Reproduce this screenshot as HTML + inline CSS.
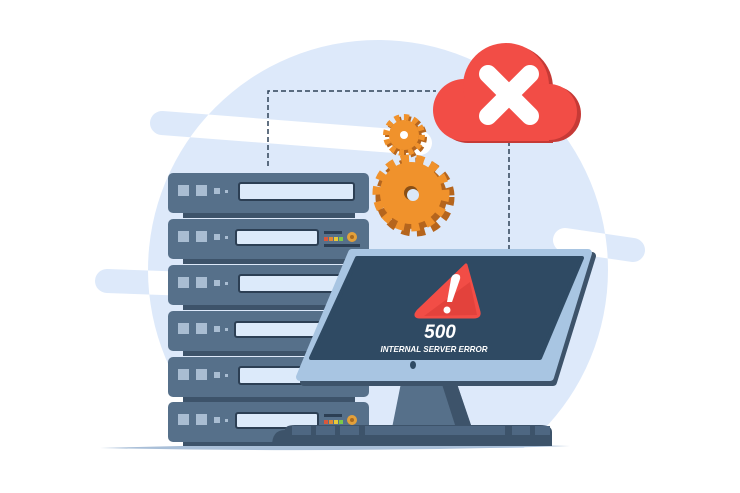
<!DOCTYPE html>
<html><head><meta charset="utf-8"><style>
html,body{margin:0;padding:0;background:#fff;}
svg{display:block}
</style></head><body>
<svg width="740" height="493" viewBox="0 0 740 493" xmlns="http://www.w3.org/2000/svg">
<defs>
<clipPath id="circ"><circle cx="378" cy="270" r="230"/></clipPath>
</defs>
<circle cx="378" cy="270" r="230" fill="#dde9fa"/>
<rect x="0" y="448" width="740" height="60" fill="#fff"/>
<g stroke="#dde9fa" stroke-width="24" stroke-linecap="round" fill="none">
<line x1="162" y1="123" x2="420" y2="143"/>
<line x1="565" y1="240" x2="633" y2="250"/>
<line x1="107" y1="281" x2="360" y2="290"/>
</g>
<g clip-path="url(#circ)" stroke="#fff" stroke-width="24" stroke-linecap="round" fill="none">
<line x1="162" y1="123" x2="420" y2="143"/>
<line x1="565" y1="240" x2="633" y2="250"/>
<line x1="107" y1="281" x2="360" y2="290"/>
</g>
<path d="M100 448 Q330 441 570 446 Q330 453 100 448Z" fill="#a9bfd8"/>
<path d="M268 166 V91 H436" fill="none" stroke="#2e4258" stroke-width="1.5" stroke-dasharray="5,3"/>
<path d="M509 141 V256" fill="none" stroke="#2e4258" stroke-width="1.5" stroke-dasharray="5,3"/>
<g>
<g transform="translate(0,173)">
<rect x="183" y="36" width="172" height="9" fill="#3d536a"/>
<rect x="168" y="0" width="201" height="40" rx="5" fill="#56708a"/>
<rect x="178" y="12" width="11" height="11" fill="#a9bdd2"/><rect x="196" y="12" width="11" height="11" fill="#a9bdd2"/><rect x="214" y="15" width="6" height="6" fill="#a9bdd2"/><rect x="225" y="17" width="3" height="3" fill="#a9bdd2"/>
<rect x="239" y="10" width="115" height="17" rx="2" fill="#dceafa" stroke="#2c3f54" stroke-width="2"/>
</g>
<g transform="translate(0,219)">
<rect x="183" y="36" width="172" height="9" fill="#3d536a"/>
<rect x="168" y="0" width="201" height="40" rx="5" fill="#56708a"/>
<rect x="178" y="12" width="11" height="11" fill="#a9bdd2"/><rect x="196" y="12" width="11" height="11" fill="#a9bdd2"/><rect x="214" y="15" width="6" height="6" fill="#a9bdd2"/><rect x="225" y="17" width="3" height="3" fill="#a9bdd2"/>
<rect x="236" y="11" width="82" height="15" rx="2" fill="#dceafa" stroke="#2c3f54" stroke-width="2"/>
<rect x="324" y="12" width="18" height="3" fill="#2c3f54"/><rect x="324" y="25" width="36" height="3" fill="#2c3f54"/>
<rect x="324" y="18" width="4" height="4" fill="#d9573c"/><rect x="329" y="18" width="4" height="4" fill="#e08a34"/><rect x="334" y="18" width="4" height="4" fill="#e8c83a"/><rect x="339" y="18" width="4" height="4" fill="#7cc84a"/>
<circle cx="352" cy="18" r="5" fill="#e3a03a"/><circle cx="352" cy="18" r="2" fill="#a96a1e"/>
</g>
<g transform="translate(0,265)">
<rect x="183" y="36" width="172" height="9" fill="#3d536a"/>
<rect x="168" y="0" width="201" height="40" rx="5" fill="#56708a"/>
<rect x="178" y="12" width="11" height="11" fill="#a9bdd2"/><rect x="196" y="12" width="11" height="11" fill="#a9bdd2"/><rect x="214" y="15" width="6" height="6" fill="#a9bdd2"/><rect x="225" y="17" width="3" height="3" fill="#a9bdd2"/>
<rect x="239" y="10" width="115" height="17" rx="2" fill="#dceafa" stroke="#2c3f54" stroke-width="2"/>
</g>
<g transform="translate(0,311)">
<rect x="183" y="36" width="172" height="9" fill="#3d536a"/>
<rect x="168" y="0" width="201" height="40" rx="5" fill="#56708a"/>
<rect x="178" y="12" width="11" height="11" fill="#a9bdd2"/><rect x="196" y="12" width="11" height="11" fill="#a9bdd2"/><rect x="214" y="15" width="6" height="6" fill="#a9bdd2"/><rect x="225" y="17" width="3" height="3" fill="#a9bdd2"/>
<rect x="235" y="11" width="110" height="15" rx="2" fill="#dceafa" stroke="#2c3f54" stroke-width="2"/>
</g>
<g transform="translate(0,357)">
<rect x="183" y="36" width="172" height="9" fill="#3d536a"/>
<rect x="168" y="0" width="201" height="40" rx="5" fill="#56708a"/>
<rect x="178" y="12" width="11" height="11" fill="#a9bdd2"/><rect x="196" y="12" width="11" height="11" fill="#a9bdd2"/><rect x="214" y="15" width="6" height="6" fill="#a9bdd2"/><rect x="225" y="17" width="3" height="3" fill="#a9bdd2"/>
<rect x="239" y="10" width="115" height="17" rx="2" fill="#dceafa" stroke="#2c3f54" stroke-width="2"/>
</g>
<g transform="translate(0,402)">
<rect x="183" y="36" width="172" height="8" fill="#3d536a"/>
<rect x="168" y="0" width="201" height="40" rx="5" fill="#56708a"/>
<rect x="178" y="12" width="11" height="11" fill="#a9bdd2"/><rect x="196" y="12" width="11" height="11" fill="#a9bdd2"/><rect x="214" y="15" width="6" height="6" fill="#a9bdd2"/><rect x="225" y="17" width="3" height="3" fill="#a9bdd2"/>
<rect x="236" y="11" width="82" height="15" rx="2" fill="#dceafa" stroke="#2c3f54" stroke-width="2"/>
<rect x="324" y="12" width="18" height="3" fill="#2c3f54"/>
<rect x="324" y="18" width="4" height="4" fill="#d9573c"/><rect x="329" y="18" width="4" height="4" fill="#e08a34"/><rect x="334" y="18" width="4" height="4" fill="#e8c83a"/><rect x="339" y="18" width="4" height="4" fill="#7cc84a"/>
<circle cx="352" cy="18" r="5" fill="#e3a03a"/><circle cx="352" cy="18" r="2" fill="#a96a1e"/>
</g>
</g>
<g>
<circle cx="406" cy="137" r="16" fill="#b5651d"/>
<circle cx="406" cy="137" r="18" fill="none" stroke="#b5651d" stroke-width="6" stroke-dasharray="5,4.4"/>
<circle cx="404" cy="135" r="15" fill="#f0922c"/>
<circle cx="404" cy="135" r="18" fill="none" stroke="#f0922c" stroke-width="6" stroke-dasharray="5,4.4"/>
<circle cx="404" cy="135" r="4" fill="#fff"/>
<circle cx="415" cy="197" r="32" fill="#b5651d"/>
<circle cx="415" cy="197" r="35" fill="none" stroke="#b5651d" stroke-width="9" stroke-dasharray="8,7"/>
<circle cx="411" cy="193" r="31" fill="#f0922c"/>
<circle cx="411" cy="193" r="34" fill="none" stroke="#f0922c" stroke-width="9" stroke-dasharray="8,7"/>
<circle cx="411" cy="193" r="7" fill="#8a4f16"/>
<circle cx="413" cy="195" r="6" fill="#dbe8f8"/>
</g>
<g>
<g fill="#c63a36" transform="translate(4,2)">
<circle cx="464" cy="110" r="31"/><circle cx="506" cy="86" r="43"/><circle cx="549" cy="112" r="28"/><rect x="464" y="100" width="85" height="41"/>
</g>
<g fill="#f24d46">
<circle cx="464" cy="110" r="31"/><circle cx="506" cy="86" r="43"/><circle cx="549" cy="112" r="28"/><rect x="464" y="100" width="85" height="41"/>
</g>
<g stroke="#fff" stroke-width="18" stroke-linecap="round">
<line x1="488" y1="74" x2="530" y2="116"/><line x1="530" y1="74" x2="488" y2="116"/>
</g>
</g>
<path d="M402 378 L455 378 L472 428 L392 428Z" fill="#56708a"/>
<path d="M440 378 L455 378 L472 428 L456 428Z" fill="#3d536a"/>
<path d="M285 430 Q285 425 295 425 L540 425 Q552 425 552 432 L552 446 L272 446 Q272 430 285 430Z" fill="#3d536a"/>
<g fill="#4e6782">
<rect x="292" y="426" width="19" height="9"/><rect x="316" y="426" width="19" height="9"/><rect x="340" y="426" width="19" height="9"/><rect x="365" y="426" width="140" height="9"/><rect x="512" y="426" width="18" height="9"/><rect x="535" y="426" width="15" height="9"/>
</g>
<path d="M356 256 L592 256 L553 382 L304 382 Z" fill="#3d536a" stroke="#3d536a" stroke-width="8" stroke-linejoin="round"/>
<path d="M352 253 L588 253 L550 377 L300 377 Z" fill="#a8c5e2" stroke="#a8c5e2" stroke-width="8" stroke-linejoin="round"/>
<path d="M357 258 L582 258 L540 358 L311 358 Z" fill="#2f4a63" stroke="#2f4a63" stroke-width="4" stroke-linejoin="round"/>
<ellipse cx="413" cy="365" rx="3" ry="4" fill="#2f4a63"/>
<path d="M466 265 L479 312 Q480 317 474 317 L420 317 Q413 317 418 311 Z" fill="#f24d46" stroke="#f24d46" stroke-width="3" stroke-linejoin="round"/>
<path d="M470 282 L477 315 L424 316 Z" fill="#d93c36" opacity="0.6"/>
<path d="M456 274 Q461 274 460 279 L452 302 L447 302 L451 279 Q452 274 456 274Z" fill="#fff"/>
<circle cx="447" cy="310" r="3.5" fill="#fff"/>
<text x="440" y="338" text-anchor="middle" font-family="'Liberation Sans',sans-serif" font-weight="bold" font-style="italic" font-size="19" fill="#fff">500</text>
<text x="434" y="352" text-anchor="middle" font-family="'Liberation Sans',sans-serif" font-weight="bold" font-style="italic" font-size="8.4" textLength="107" lengthAdjust="spacingAndGlyphs" fill="#fff">INTERNAL SERVER ERROR</text>
</svg>
</body></html>
